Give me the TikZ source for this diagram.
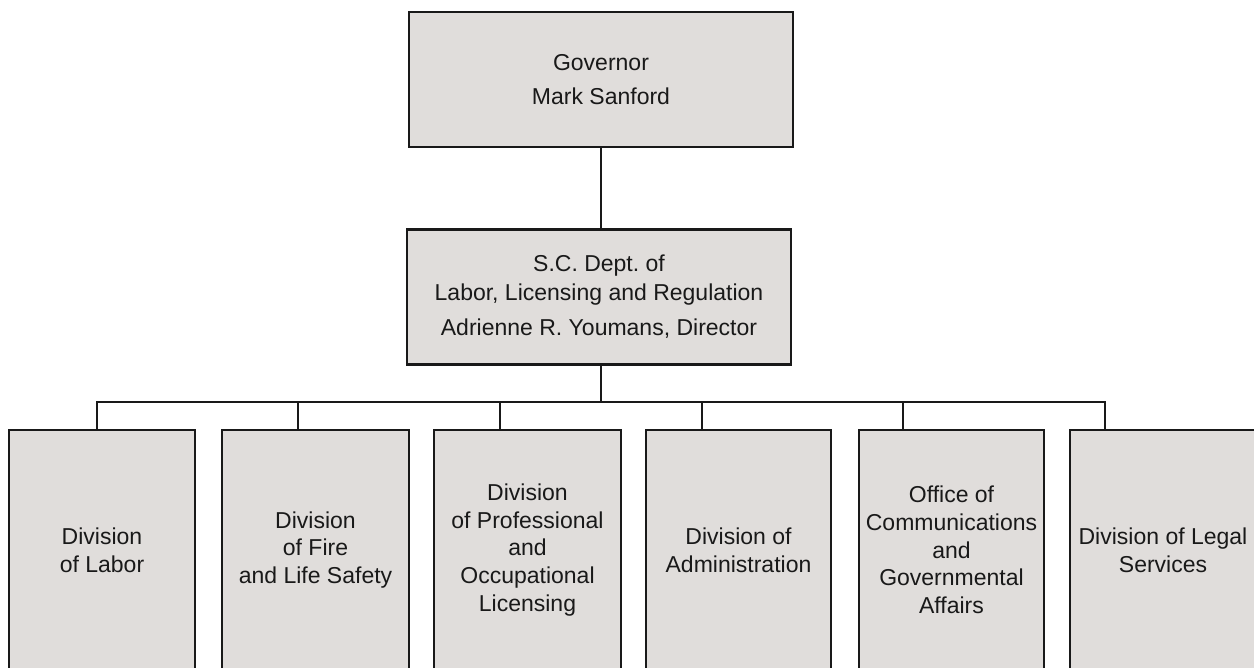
\documentclass[tikz,border=0pt]{standalone}
\usepackage{fontspec}
\setmainfont{Liberation Sans}
\frenchspacing
\definecolor{boxgray}{RGB}{224,221,219}
\definecolor{ink}{RGB}{25,25,25}
\begin{document}
\begin{tikzpicture}[x=1pt,y=-1pt,
  box/.style={draw=ink, line width=2.7pt, fill=boxgray, inner sep=0pt, align=center, text=ink,
    font=\fontsize{23}{27.7}\selectfont},
  topbox/.style={box, minimum width=384pt, minimum height=135pt},
  divbox/.style={box, minimum height=240pt},
  link/.style={draw=ink, line width=2.7pt}]
\useasboundingbox (0,0) rectangle (1254,668);
\node[topbox] (gov) at (601,79.5) {Governor\\[6.3pt]Mark Sanford};
\node[topbox, font=\fontsize{23}{29}\selectfont] (dept) at (599,297)
  {S.C. Dept. of\\Labor, Licensing and Regulation\\[6pt]Adrienne R. Youmans, Director};
\node[divbox, minimum width=186pt] (d1) at (102,550) {Division\\of Labor};
\node[divbox, minimum width=187pt] (d2) at (315.5,550) {Division\\of Fire\\and Life Safety};
\node[divbox, minimum width=187pt] (d3) at (527.5,550) {Division\\of Professional\\and\\Occupational\\Licensing};
\node[divbox, minimum width=185pt] (d4) at (738.5,550) {Division of\\Administration};
\node[divbox, minimum width=185pt] (d5) at (951.5,550) {Office of\\Communications\\and\\Governmental\\Affairs};
\node[divbox, minimum width=186pt] (d6) at (1163,550) {Division of Legal\\Services};
\coordinate (g) at (601,147);
\coordinate (hub) at (601,402);
\coordinate (b1) at (97,402);
\coordinate (b2) at (298,402);
\coordinate (b3) at (500,402);
\coordinate (b4) at (702,402);
\coordinate (b5) at (903,402);
\coordinate (b6) at (1105,402);
\draw[link] (gov.south -| g) -- (dept.north -| g);
\draw[link] (dept.south -| hub) -- (hub);
\draw[link, line cap=rect] (b1) -- (b6);
\foreach \i in {1,...,6} {\draw[link] (b\i) -- (b\i |- d\i.north);}
\end{tikzpicture}
\end{document}
